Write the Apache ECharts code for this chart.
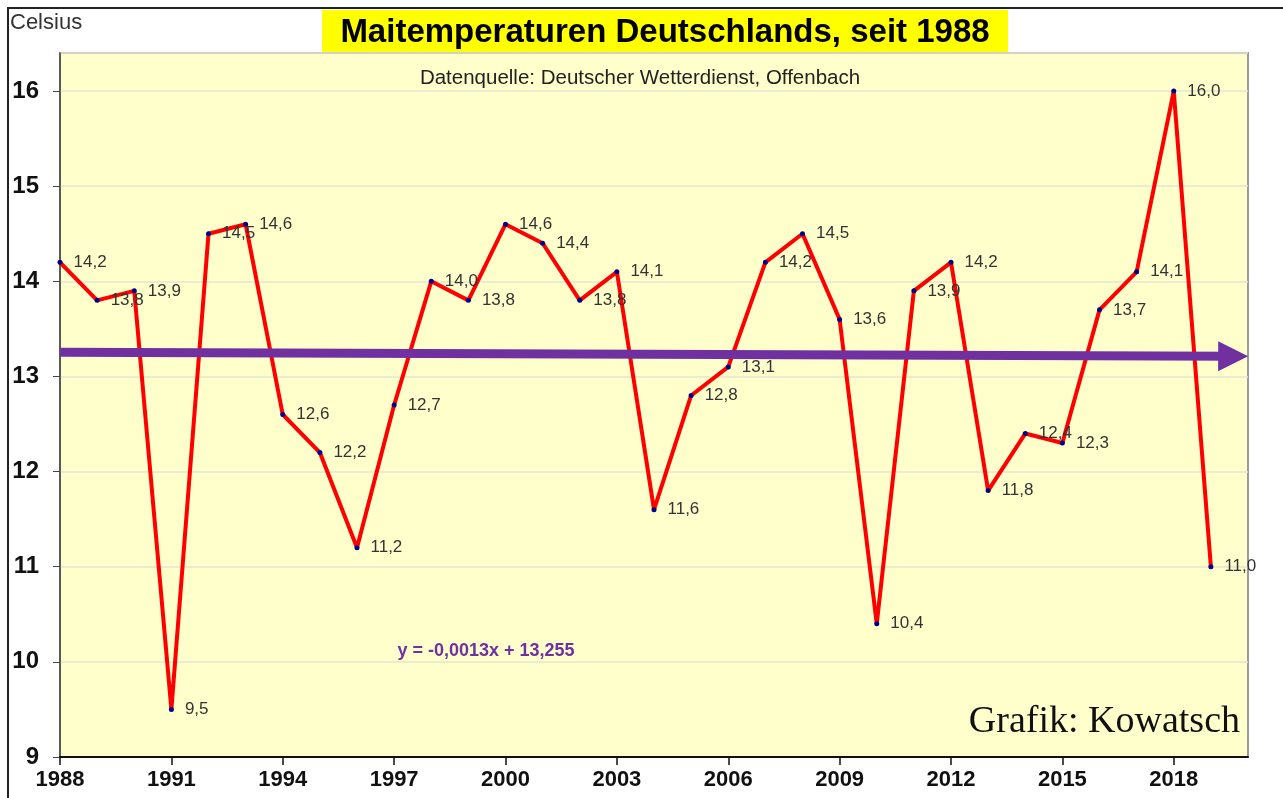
<!DOCTYPE html>
<html>
<head>
<meta charset="utf-8">
<title>Maitemperaturen Deutschlands</title>
<script src="https://cdn.jsdelivr.net/npm/echarts@6/dist/echarts.min.js"></script>
<style>
  html, body { margin: 0; padding: 0; background: #fff; }
  #chart { width: 1283px; height: 798px; }
</style>
</head>
<body>
<div id="chart"></div>
<script>
// Mai-Mittel, DWD
var years = [1988, 1989, 1990, 1991, 1992, 1993, 1994, 1995, 1996, 1997, 1998,
  1999, 2000, 2001, 2002, 2003, 2004, 2005, 2006, 2007, 2008, 2009, 2010,
  2011, 2012, 2013, 2014, 2015, 2016, 2017, 2018, 2019];
var temps = [14.2, 13.8, 13.9, 9.5, 14.5, 14.6, 12.6, 12.2, 11.2, 12.7, 14.0,
  13.8, 14.6, 14.4, 13.8, 14.1, 11.6, 12.8, 13.1, 14.2, 14.5, 13.6, 10.4,
  13.9, 14.2, 11.8, 12.4, 12.3, 13.7, 14.1, 16.0, 11.0];

// Trendlinie (Start / Pfeilspitze)
var trendYears = [1988, 2019.6];
var trendValues = [13.254, 13.213];

var chart = echarts.init(document.getElementById("chart"));

function komma(v) {
  return v.toFixed(1).replace(".", ",");
}

chart.setOption({
  animation: false,
  backgroundColor: "#fff",
  grid: {
    left: 60,
    top: 53,
    right: 35,
    bottom: 41,
    show: true,
    backgroundColor: "#ffffcc",
    borderColor: "#9a9a9a",
    borderWidth: 2
  },
  xAxis: {
    type: "value",
    min: 1988,
    max: 2020,
    interval: 3,
    splitLine: { show: false },
    axisLine: { lineStyle: { color: "#111", width: 2 } },
    axisTick: { show: true, length: 8, lineStyle: { color: "#111", width: 1.5 } },
    axisLabel: {
      showMaxLabel: false,
      margin: 12,
      color: "#111",
      fontFamily: "Arial, Liberation Sans",
      fontWeight: "bold",
      fontSize: 22,
      formatter: function (v) { return String(v); }
    }
  },
  yAxis: {
    type: "value",
    min: 9,
    max: 16.4,
    interval: 1,
    splitLine: { lineStyle: { color: "#e4e4d2", width: 1.5 } },
    axisLine: { show: true, lineStyle: { color: "#444", width: 1.5 } },
    axisTick: { show: true, length: 7, lineStyle: { color: "#444" } },
    axisLabel: {
      showMaxLabel: false,
      margin: 21,
      color: "#111",
      fontFamily: "Arial, Liberation Sans",
      fontWeight: "bold",
      fontSize: 24
    }
  },
  series: [
    {
      // Trendpfeil
      type: "line",
      data: [],
      z: 1,
      markLine: {
        silent: true,
        animation: false,
        symbol: ["none", "triangle"],
        symbolSize: [30, 30],
        label: { show: false },
        lineStyle: { color: "#7030a0", width: 9, type: "solid" },
        data: [[
          { coord: [trendYears[0], trendValues[0]] },
          { coord: [trendYears[1], trendValues[1]] }
        ]]
      }
    },
    {
      type: "line",
      z: 3,
      data: years.map(function (y, i) { return [y, temps[i]]; }),
      lineStyle: { color: "#ff0000", width: 4 },
      symbol: "circle",
      symbolSize: 5,
      itemStyle: { color: "#000080" },
      label: {
        show: true,
        position: "right",
        distance: 11,
        color: "#333",
        fontFamily: "Arial, Liberation Sans",
        fontSize: 17,
        formatter: function (p) { return komma(p.value[1]); }
      }
    }
  ],
  graphic: [
    {
      type: "polyline",
      shape: { points: [[8, 798], [8, 8], [1283, 8]] },
      style: { stroke: "#222", lineWidth: 2, fill: null }
    },
    {
      type: "text",
      left: 10,
      top: 12,
      style: { text: "Celsius", font: "22px Arial, Liberation Sans", fill: "#333" }
    },
    {
      type: "rect",
      shape: { x: 322, y: 10, width: 686, height: 42 },
      style: { fill: "#ffff00" }
    },
    {
      type: "text",
      x: 665,
      y: 33,
      style: {
        text: "Maitemperaturen Deutschlands, seit 1988",
        font: "bold 33px Arial, Liberation Sans",
        fill: "#000",
        align: "center",
        verticalAlign: "middle"
      }
    },
    {
      type: "text",
      x: 640,
      y: 78,
      style: {
        text: "Datenquelle: Deutscher Wetterdienst, Offenbach",
        font: "20.5px Arial, Liberation Sans",
        fill: "#222",
        align: "center",
        verticalAlign: "middle"
      }
    },
    {
      type: "text",
      x: 486,
      y: 651,
      style: {
        text: "y = -0,0013x + 13,255",
        font: "bold 18px Arial, Liberation Sans",
        fill: "#7030a0",
        align: "center",
        verticalAlign: "middle"
      }
    },
    {
      type: "text",
      x: 1240,
      y: 722,
      style: {
        text: "Grafik: Kowatsch",
        font: "38px Liberation Serif, Times New Roman, serif",
        fill: "#111",
        align: "right",
        verticalAlign: "middle"
      }
    }
  ]
});
</script>
</body>
</html>
